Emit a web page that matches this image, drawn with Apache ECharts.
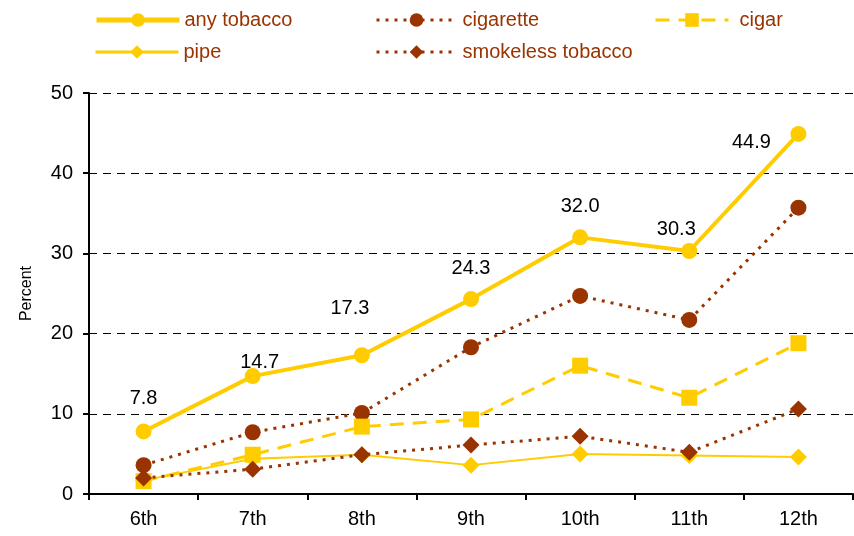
<!DOCTYPE html>
<html><head><meta charset="utf-8">
<script src="https://cdn.jsdelivr.net/npm/echarts@6/dist/echarts.min.js"></script>
<style>html,body{margin:0;padding:0;background:#fff}#c{width:854px;height:536px}</style>
</head><body><div id="c"></div>
<script>
const grades = ['6th','7th','8th','9th','10th','11th','12th'];
const anyTobacco = [7.8, 14.7, 17.3, 24.3, 32.0, 30.3, 44.9];
const cigarette = [3.6, 7.7, 10.1, 18.3, 24.7, 21.7, 35.7];
const cigar = [1.6, 4.9, 8.4, 9.3, 16.0, 12.0, 18.8];
const pipe = [1.7, 4.4, 4.9, 3.6, 5.0, 4.8, 4.6];
const smokeless = [2.0, 3.1, 4.9, 6.1, 7.2, 5.2, 10.6];
const yTicks = [0, 10, 20, 30, 40, 50];

const YEL = '#FFCC00', BRN = '#993300';
const font = 'Liberation Sans, Arial, sans-serif';
// label offsets (from marker centre) for the any-tobacco value labels (style only)
const labelOffsets = [[0,-33],[7,-14],[-12,-47],[0,-31],[0,-31],[-13,-22],[-47,9]];

const chart = echarts.init(document.getElementById('c'));
function legend(name, left, top, w, lw, textPad) {
  return { data:[name], left, top, padding:0, itemWidth:w, itemHeight:17, itemGap:0,
    lineStyle:{width:lw},
    textStyle:{color:BRN, fontSize:20, fontFamily:font, padding:[0,0,0,textPad||0]}, selectedMode:false };
}
chart.setOption({
  animation:false,
  legend:[
    legend('any tobacco', 94, 10, 83, 5, 0),
    legend('cigarette', 375, 10, 80, 3, 1),
    legend('cigar', 654, 10, 73, 3, 6),
    legend('pipe', 94, 42, 83, 3, 0),
    legend('smokeless tobacco', 375, 42, 80, 3, 1)
  ],
  grid:{left:89, right:1, top:93, bottom:42},
  xAxis:{type:'category', data:grades, boundaryGap:true,
    axisLine:{lineStyle:{color:'#000', width:2}},
    axisTick:{show:true, length:6, lineStyle:{color:'#000', width:2}},
    axisLabel:{color:'#000', fontSize:20, fontFamily:font, margin:15}},
  yAxis:{type:'value', min:yTicks[0], max:yTicks[yTicks.length-1], interval:10,
    name:'Percent', nameLocation:'middle', nameGap:54, nameRotate:90,
    nameTextStyle:{color:'#000', fontSize:16, fontFamily:font},
    axisLine:{show:true, lineStyle:{color:'#000', width:2}},
    axisTick:{show:true, length:6, lineStyle:{color:'#000', width:2}},
    axisLabel:{color:'#000', fontSize:20, fontFamily:font, margin:16},
    splitLine:{show:true, lineStyle:{color:'#000', type:[8,6], width:1}}},
  series:[
    {name:'any tobacco', type:'line', data:anyTobacco.map((v,i)=>({value:v,
        label:{show:true, position:'inside', offset:labelOffsets[i]}})),
      symbol:'circle', symbolSize:16, lineStyle:{color:YEL, width:4}, itemStyle:{color:YEL},
      label:{color:'#000', fontSize:20, fontFamily:font, formatter:p=>p.value.toFixed(1)}, z:10},
    {name:'cigarette', type:'line', data:cigarette, symbol:'circle', symbolSize:16,
      lineStyle:{color:BRN, width:3, type:[3,6]}, itemStyle:{color:BRN}, z:5},
    {name:'cigar', type:'line', data:cigar, symbol:'rect', symbolSize:16,
      lineStyle:{color:YEL, width:3, type:[14,9]}, itemStyle:{color:YEL}, z:6},
    {name:'pipe', type:'line', data:pipe, symbol:'diamond', symbolSize:17,
      lineStyle:{color:YEL, width:2}, itemStyle:{color:YEL}, z:4},
    {name:'smokeless tobacco', type:'line', data:smokeless, symbol:'diamond', symbolSize:17,
      lineStyle:{color:BRN, width:3, type:[3,6]}, itemStyle:{color:BRN}, z:7}
  ]
});
</script></body></html>
